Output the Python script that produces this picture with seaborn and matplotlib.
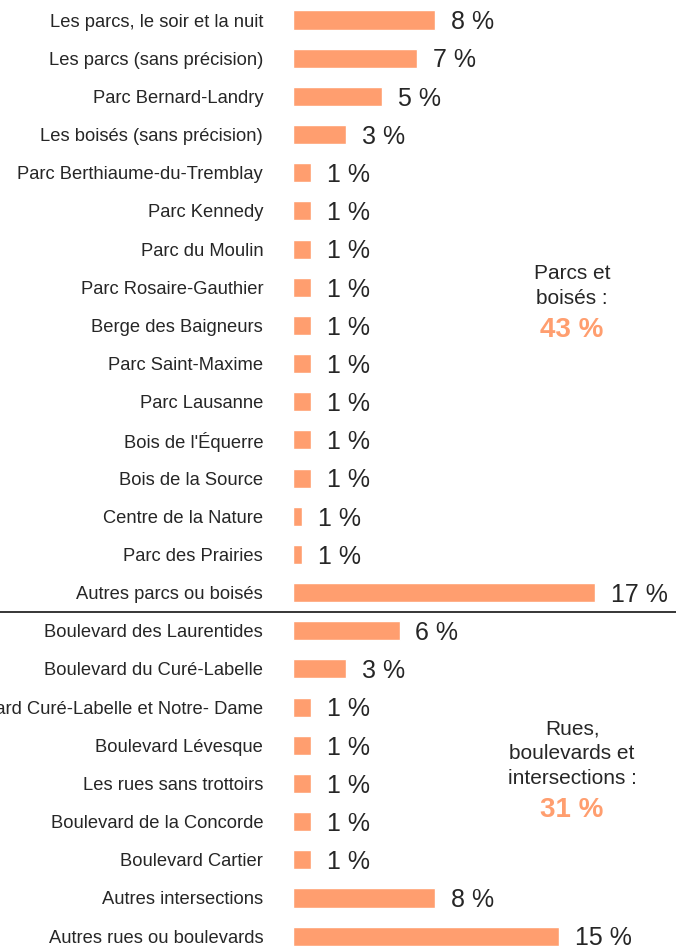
import matplotlib
matplotlib.use("Agg")
import matplotlib.pyplot as plt
import seaborn as sns
import pandas as pd
from matplotlib.lines import Line2D

# categories, in the order shown (top to bottom)
lieux = [
    "Les parcs, le soir et la nuit",
    "Les parcs (sans précision)",
    "Parc Bernard-Landry",
    "Les boisés (sans précision)",
    "Parc Berthiaume-du-Tremblay",
    "Parc Kennedy",
    "Parc du Moulin",
    "Parc Rosaire-Gauthier",
    "Berge des Baigneurs",
    "Parc Saint-Maxime",
    "Parc Lausanne",
    "Bois de l'Équerre",
    "Bois de la Source",
    "Centre de la Nature",
    "Parc des Prairies",
    "Autres parcs ou boisés",
    "Boulevard des Laurentides",
    "Boulevard du Curé-Labelle",
    "Boulevard Curé-Labelle et Notre- Dame",
    "Boulevard Lévesque",
    "Les rues sans trottoirs",
    "Boulevard de la Concorde",
    "Boulevard Cartier",
    "Autres intersections",
    "Autres rues ou boulevards",
]
# bar lengths (%)
pourcent = [8, 7, 5, 3, 1, 1, 1, 1, 1, 1, 1, 1, 1, 0.5, 0.5, 17,
            6, 3, 1, 1, 1, 1, 1, 8, 15]
# printed labels
etiquettes = ["8 %", "7 %", "5 %", "3 %", "1 %", "1 %", "1 %", "1 %", "1 %",
              "1 %", "1 %", "1 %", "1 %", "1 %", "1 %", "17 %",
              "6 %", "3 %", "1 %", "1 %", "1 %", "1 %", "1 %", "8 %", "15 %"]

groupes = [("Parcs et\nboisés :", "43 %", 6.97, 8.12),
           ("Rues,\nboulevards et\nintersections :", "31 %", 19.22, 20.70)]

ORANGE = "#FF9E6F"

sns.set_style("white")
plt.rcParams['font.family'] = ['Liberation Sans', 'DejaVu Sans']

df = pd.DataFrame({"lieu": lieux, "pct": pourcent})

fig = plt.figure(figsize=(6.76, 9.48), dpi=100)
ax = fig.add_axes([293 / 676, 0, 1 - 293 / 676, 1])

sns.barplot(data=df, x="pct", y="lieu", orient="h", color=ORANGE,
            width=0.5, saturation=1, ax=ax)

ax.set_xlim(0, 383 / 17.75)
ax.set_ylim(24.31, -0.524)
ax.set_xlabel("")
ax.set_ylabel("")
ax.set_xticks([])
sns.despine(ax=ax, left=True, bottom=True)
ax.tick_params(axis="y", length=0, pad=21.5, labelsize=13.2)

for i, (v, t) in enumerate(zip(pourcent, etiquettes)):
    ax.text(v + 0.9, i + 0.06, t, fontsize=18, va="center", ha="left",
            clip_on=False)

for txt, tot, ytxt, ytot in groupes:
    ax.text(15.72, ytxt, txt, fontsize=15, ha="center", va="center",
            linespacing=1.38)
    ax.text(15.72, ytot, tot, fontsize=20, ha="center", va="center",
            color=ORANGE, fontweight="bold")

# separator between the two groups, across the whole figure
y_sep = ax.transData.transform((0, 15.5))[1]
y_sep = fig.transFigure.inverted().transform((0, y_sep))[1]
fig.add_artist(Line2D([0, 1], [y_sep, y_sep], color="black", lw=1.1,
                      transform=fig.transFigure))

fig.savefig("out.png", dpi=100)
